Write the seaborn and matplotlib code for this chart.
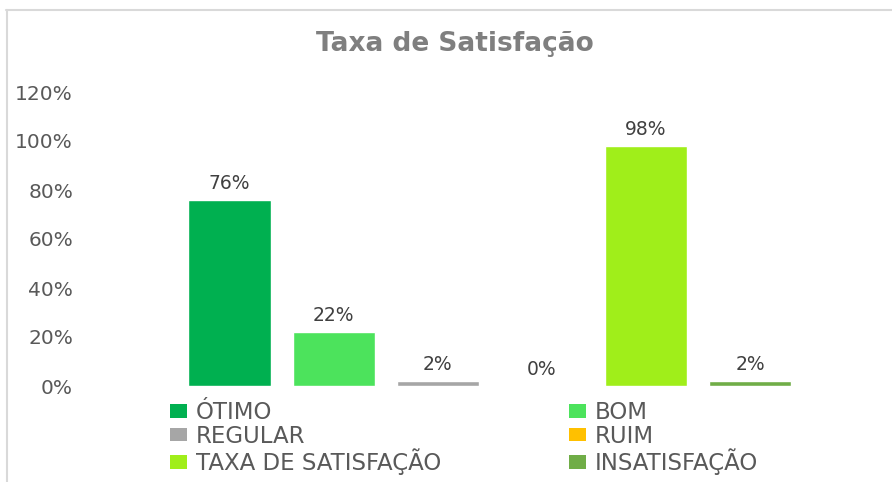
import seaborn as sns
import matplotlib.pyplot as plt
from matplotlib.patches import Patch
from matplotlib.lines import Line2D

# dados do grafico
categorias = ['ÓTIMO', 'BOM', 'REGULAR', 'RUIM', 'TAXA DE SATISFAÇÃO', 'INSATISFAÇÃO']
valores = [0.76, 0.22, 0.02, 0.0, 0.98, 0.02]
cores = ['#00B050', '#4CE35C', '#A6A6A6', '#FFC000', '#A0EE1A', '#70AD47']
yticks = [0, 0.2, 0.4, 0.6, 0.8, 1.0, 1.2]

sns.set_style('white')
plt.rcParams['font.family'] = ['DejaVu Sans']

W, H = 892, 482
fig = plt.figure(figsize=(W / 100, H / 100), dpi=100)
ax = fig.add_axes([80 / W, 96 / H, 790 / W, 294 / H])

sns.barplot(x=categorias, y=valores, hue=categorias, palette=cores,
            width=0.79, saturation=1, legend=False, ax=ax)

for cont, v in zip(ax.containers, valores):
    ax.bar_label(cont, labels=[f'{v:.0%}'], padding=5, fontsize=13.5, color='#404040')

ax.set_xlim(-1.436, 6.15)
ax.set_ylim(0, 1.2)
ax.set_yticks(yticks)
ax.set_yticklabels([f'{t:.0%}' for t in yticks], fontsize=14.5, color='#595959')
ax.set_xticks([])
ax.tick_params(axis='y', length=0, pad=5)
sns.despine(ax=ax, left=True, bottom=True)
ax.set_xlabel('')
ax.set_ylabel('')

fig.text(455 / W, 1 - 44 / H, 'Taxa de Satisfação', ha='center', va='center',
         fontsize=19, fontweight='bold', color='#7F7F7F')

# legenda em duas colunas
handles = [Patch(facecolor=c, edgecolor='none') for c in cores]
col1 = [0, 2, 4]
col2 = [1, 3, 5]
for idx, x0 in ((col1, 170), (col2, 569)):
    fig.legend([handles[i] for i in idx], [categorias[i] for i in idx],
               loc='upper left', bbox_to_anchor=(x0 / W, 1 - 401 / H),
               frameon=False, borderpad=0, borderaxespad=0, fontsize=16.5,
               labelcolor='#595959', handlelength=0.72, handleheight=0.55,
               handletextpad=0.4, labelspacing=0.03)

# borda do grafico
fig.add_artist(Line2D([6 / W, 1.01], [1 - 9.5 / H] * 2, color='#D9D9D9', lw=1.5))
fig.add_artist(Line2D([7 / W] * 2, [-0.01, 1 - 9.5 / H], color='#D9D9D9', lw=1.5))

fig.savefig('out.png', dpi=100)
